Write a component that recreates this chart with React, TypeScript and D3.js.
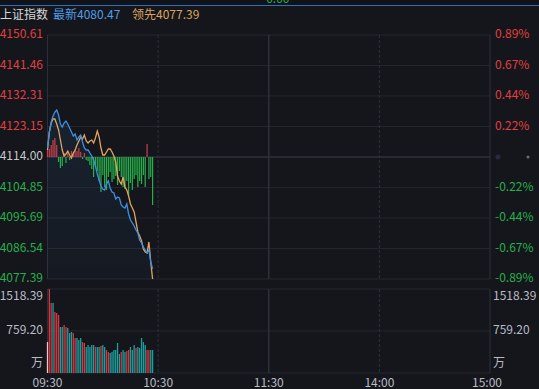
import React from 'react';
import * as d3 from 'd3';

// ---- data ----
const priceTicks = [4150.61, 4141.46, 4132.31, 4123.15, 4114.0, 4104.85, 4095.69, 4086.54, 4077.39];
const pctTicks = ['0.89%', '0.67%', '0.44%', '0.22%', '', '-0.22%', '-0.44%', '-0.67%', '-0.89%'];
const prevClose = 4114.0;
const volTicks = [1518.39, 759.2];
const timeTicks = [0, 60, 120, 180, 240];
const timeLabels = ['09:30', '10:30', '11:30', '14:00', '15:00'];

// minute-by-minute series (09:30 → 10:27)
const latest = [
  4116.7, 4121.5, 4124.5, 4126.3, 4127.5, 4128.1, 4126.6, 4123.9, 4123.0, 4124.2,
  4124.8, 4123.9, 4122.7, 4121.5, 4120.3, 4120.9, 4119.1, 4120.0, 4120.6, 4118.5,
  4116.7, 4116.1, 4116.1, 4115.2, 4114.3, 4113.1, 4111.3, 4108.9, 4107.1, 4105.3,
  4104.4, 4104.1, 4105.9, 4106.8, 4104.7, 4103.5, 4103.2, 4101.4, 4102.0, 4101.7,
  4099.6, 4099.0, 4098.7, 4099.9, 4096.9, 4095.1, 4094.2, 4093.3, 4092.1, 4091.2,
  4089.1, 4088.2, 4087.0, 4086.1, 4085.2, 4086.1, 4082.5, 4080.47,
];
const leading = [
  4116.1, 4121.5, 4124.2, 4125.4, 4125.4, 4123.9, 4122.1, 4119.1, 4116.1, 4114.3,
  4114.9, 4115.8, 4114.6, 4113.7, 4115.2, 4116.1, 4117.6, 4118.8, 4120.0, 4119.4,
  4120.6, 4118.8, 4118.2, 4118.8, 4119.1, 4118.2, 4119.7, 4121.8, 4120.0, 4116.7,
  4114.6, 4114.6, 4115.5, 4116.4, 4116.4, 4115.5, 4114.3, 4112.5, 4108.3, 4106.8,
  4105.9, 4108.0, 4105.0, 4104.1, 4102.3, 4099.9, 4098.7, 4097.5, 4094.5, 4091.5,
  4090.3, 4088.8, 4086.4, 4085.5, 4085.2, 4088.5, 4082.5, 4077.39,
];
const force = [
  2.1, 2.4, 3.6, 5.1, 5.7, 3.6, -1.5, -3.3, -2.7, 1.2,
  -1.8, 1.5, -0.9, 1.8, 1.2, 2.4, 1.8, 2.7, 1.5, -0.6,
  1.2, -0.9, -1.2, -2.4, -3.6, -6.0, -3.0, -4.2, -7.2, -10.5,
  -5.4, -9.0, -9.9, -6.0, -4.5, -7.5, -6.6, -5.7, -8.4, -4.2,
  -6.0, -9.0, -9.6, -7.2, -11.4, -7.8, -9.9, -6.6, -5.4, -9.0,
  -7.2, -8.1, -5.4, -9.0, 3.9, -6.6, -6.0, -14.4,
];
const volume = [
  560, 1518, 1266, 1266, 1103, 1085, 1049, 832, 832, 868,
  832, 814, 723, 741, 723, 633, 633, 597, 633, 560,
  542, 470, 506, 470, 506, 506, 470, 470, 470, 488,
  506, 470, 416, 380, 362, 380, 416, 416, 542, 344,
  380, 416, 380, 398, 416, 470, 416, 506, 452, 470,
  452, 633, 560, 506, 416, 416, 416, 416,
];
// 1 = up minute, -1 = down minute, 0 = opening auction
const volDir = [
  0, 1, 1, -1, 1, 1, 1, -1, -1, 1,
  1, -1, -1, -1, 1, 1, -1, -1, -1, 1,
  1, -1, -1, -1, -1, -1, 1, -1, -1, 1,
  -1, -1, 1, 1, -1, -1, -1, -1, -1, -1,
  1, -1, -1, 1, 1, -1, -1, -1, 1, -1,
  -1, -1, -1, -1, 1, 1, -1, -1,
];

const W = 539;
const H = 389;
const L = 47.5;
const R = 490;
const PT = 35;
const PB = 279;
const VT = 289;
const VB = 373;

const FONT = "'Noto Sans CJK SC', 'Noto Sans', sans-serif";
const RED = '#e2403f';
const GREEN = '#27b04a';
const GRID = '#23262f';
const VGRID = '#2c303b';
const TXT = '#b9bcc4';

export default function App() {
  const x = d3.scaleLinear().domain([0, 240]).range([L, R]);
  const y = d3.scaleLinear().domain([priceTicks[8], priceTicks[0]]).range([PB, PT]);
  const yv = d3.scaleLinear().domain([0, volTicks[0]]).range([VB, VT]);

  const line = d3
    .line<number>()
    .x((_, i) => x(i))
    .y((d) => y(d))
    .curve(d3.curveLinear);
  const area = d3
    .area<number>()
    .x((_, i) => x(i))
    .y0(PB)
    .y1((d) => y(d));

  const midY = y(prevClose);

  return (
    <svg
      width={W}
      height={H}
      style={{ position: 'fixed', left: 0, top: 0, display: 'block', background: '#14161c' }}
      fontFamily={FONT}
    >
      <defs>
        <linearGradient id="areaG" x1="0" y1="0" x2="0" y2="1">
          <stop offset="0%" stopColor="#3d8fe0" stopOpacity={0.1} />
          <stop offset="100%" stopColor="#3d8fe0" stopOpacity={0.03} />
        </linearGradient>
        <clipPath id="topClip">
          <rect x={0} y={0} width={W} height={5} />
        </clipPath>
      </defs>
      <rect x={0} y={0} width={W} height={H} fill="#14161c" />

      {/* top strip */}
      <rect x={0} y={0} width={W} height={5} fill="#111318" />
      <g clipPath="url(#topClip)">
        <text x={262} y={3} fontSize={12} fill={GREEN}>-0.00</text>
      </g>
      <line x1={0} x2={W} y1={5.5} y2={5.5} stroke="#2d6fc0" strokeWidth={1} />

      {/* header */}
      <text x={0} y={19} fontSize={12} fill="#d6d6d6">上证指数</text>
      <text x={53} y={19} fontSize={12} fill="#4f9de8">最新{latest[latest.length - 1].toFixed(2)}</text>
      <text x={132} y={19} fontSize={12} fill="#dca35e">领先{leading[leading.length - 1].toFixed(2)}</text>

      {/* price grid */}
      {priceTicks.map((t, i) => (
        <line
          key={'hg' + i}
          x1={L}
          x2={R}
          y1={y(t)}
          y2={y(t)}
          stroke={i === 4 ? '#3a3e49' : GRID}
          strokeWidth={1}
        />
      ))}
      {timeTicks.map((t, i) => (
        <line
          key={'vg' + i}
          x1={x(t)}
          x2={x(t)}
          y1={PT}
          y2={PB}
          stroke={VGRID}
          strokeWidth={i === 2 ? 1.5 : 1}
          strokeDasharray={i === 1 || i === 3 ? '3,2' : undefined}
        />
      ))}

      {/* area under latest */}
      <path d={area(latest) || ''} fill="url(#areaG)" />

      {/* force bars */}
      {force.map((f, i) => (
        <rect
          key={'fb' + i}
          x={x(i) - 0.6}
          width={1.2}
          y={f >= 0 ? y(prevClose + f) : midY}
          height={Math.abs(y(prevClose + f) - midY)}
          fill={f >= 0 ? '#c9404a' : GREEN}
        />
      ))}

      {/* lines */}
      <path d={line(leading) || ''} fill="none" stroke="#e0a55e" strokeWidth={1.3} />
      <path d={line(latest) || ''} fill="none" stroke="#3d8fe0" strokeWidth={1.3} />

      {/* price labels */}
      {priceTicks.map((t, i) => (
        <text
          key={'pl' + i}
          x={43}
          y={y(t)}
          fontSize={12}
          textAnchor="end"
          dominantBaseline="middle"
          fill={t > prevClose ? RED : t < prevClose ? GREEN : '#c8c8c8'}
        >
          {t.toFixed(2)}
        </text>
      ))}
      {pctTicks.map((p, i) =>
        p ? (
          <text
            key={'pp' + i}
            x={495}
            y={y(priceTicks[i])}
            fontSize={12}
            dominantBaseline="middle"
            fill={p.startsWith('-') ? GREEN : RED}
          >
            {p}
          </text>
        ) : (
          <g key={'pp' + i}>
            <circle cx={498} cy={y(priceTicks[i])} r={2.5} fill="#262a3a" />
            <circle cx={528} cy={y(priceTicks[i])} r={1.5} fill="#6a6d75" />
          </g>
        )
      )}

      {/* volume grid */}
      {[VT, (VT + VB) / 2, VB].map((v, i) => (
        <line key={'vh' + i} x1={L} x2={R} y1={v} y2={v} stroke={GRID} strokeWidth={1} />
      ))}
      {timeTicks.map((t, i) => (
        <line
          key={'vv' + i}
          x1={x(t)}
          x2={x(t)}
          y1={VT}
          y2={VB}
          stroke={VGRID}
          strokeWidth={i === 2 ? 1.5 : 1}
          strokeDasharray={i === 1 || i === 3 ? '3,2' : undefined}
        />
      ))}

      {/* volume bars */}
      {volume.map((v, i) => (
        <rect
          key={'vb' + i}
          x={x(i) - 0.65}
          width={1.3}
          y={yv(v)}
          height={VB - yv(v)}
          fill={volDir[i] > 0 ? '#cf3a44' : volDir[i] < 0 ? '#1f9e9c' : '#e8c8cc'}
        />
      ))}

      {/* volume labels */}
      {[volTicks[0], volTicks[1]].map((t, i) => (
        <g key={'vl' + i}>
          <text
            x={43}
            y={i === 0 ? 297 : yv(t)}
            fontSize={12}
            textAnchor="end"
            dominantBaseline="middle"
            fill={TXT}
          >
            {t.toFixed(2)}
          </text>
          <text x={493} y={i === 0 ? 297 : yv(t)} fontSize={12} dominantBaseline="middle" fill={TXT}>
            {t.toFixed(2)}
          </text>
        </g>
      ))}
      <text x={43} y={364} fontSize={12} textAnchor="end" dominantBaseline="middle" fill={TXT}>万</text>
      <text x={493} y={364} fontSize={12} dominantBaseline="middle" fill={TXT}>万</text>

      {/* time labels */}
      {timeTicks.map((t, i) => (
        <text
          key={'tl' + i}
          x={i === 4 ? x(t) - 3 : x(t)}
          y={384}
          fontSize={12}
          textAnchor="middle"
          dominantBaseline="middle"
          fill={TXT}
        >
          {timeLabels[i]}
        </text>
      ))}
    </svg>
  );
}
